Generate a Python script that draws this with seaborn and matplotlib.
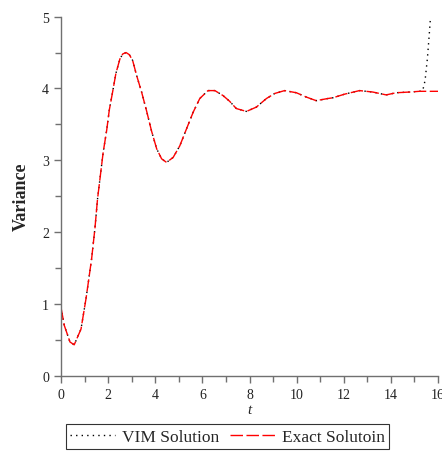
import numpy as np
import pandas as pd
import matplotlib
matplotlib.use("Agg")
import matplotlib.pyplot as plt
import seaborn as sns
from matplotlib.ticker import MultipleLocator

# ---- data ----
t_exact = [0.0, 0.14, 0.38, 0.56, 0.85, 1.06, 1.16, 1.30, 1.44, 1.55, 1.69, 1.79,
           1.94, 2.05, 2.19, 2.33, 2.50, 2.62, 2.76, 2.90, 3.04, 3.21, 3.42, 3.63,
           3.84, 4.06, 4.27, 4.48, 4.76, 5.04, 5.33, 5.61, 5.89, 6.24, 6.53, 6.88,
           7.16, 7.44, 7.87, 8.29, 8.72, 9.07, 9.49, 9.99, 10.41, 10.83, 11.33,
           11.54, 12.03, 12.67, 13.23, 13.80, 14.22, 14.79, 15.21, 16.0]
v_exact = [0.95, 0.70, 0.47, 0.43, 0.65, 1.07, 1.30, 1.63, 2.05, 2.46, 2.84, 3.11,
           3.42, 3.70, 3.95, 4.21, 4.41, 4.48, 4.50, 4.47, 4.39, 4.18, 3.95, 3.69,
           3.41, 3.16, 3.02, 2.97, 3.04, 3.20, 3.44, 3.67, 3.86, 3.97, 3.97, 3.90,
           3.82, 3.72, 3.68, 3.74, 3.86, 3.93, 3.97, 3.94, 3.88, 3.83, 3.86,
           3.87, 3.92, 3.97, 3.95, 3.91, 3.94, 3.95, 3.96, 3.96]

t_vim = t_exact[:-1] + [15.35, 15.45, 15.55, 15.63, 15.68, 15.72]
v_vim = v_exact[:-1] + [3.97, 4.11, 4.42, 4.76, 4.99, 5.25]

labels = ["VIM Solution", "Exact Solutoin"]
x_ticks = [0, 2, 4, 6, 8, 10, 12, 14, 16]
y_ticks = [0, 1, 2, 3, 4, 5]

sns.set_style("ticks")
plt.rcParams["font.family"] = ["Liberation Serif", "DejaVu Serif"]

fig = plt.figure(figsize=(4.42, 4.52), dpi=100)
ax = fig.add_axes([0.138, 0.1666, 0.853, 0.7944])

df_vim = pd.DataFrame({"t": t_vim, "v": v_vim})
df_ex = pd.DataFrame({"t": t_exact, "v": v_exact})

sns.lineplot(data=df_vim, x="t", y="v", ax=ax, color="black", lw=1.0,
             linestyle=(0, (1, 3)), label=labels[0])
sns.lineplot(data=df_ex, x="t", y="v", ax=ax, color="red", lw=1.0,
             linestyle=(0, (9, 2.5)), label=labels[1])

ax.set_xlim(0, 16)
ax.set_ylim(0, 5)
ax.set_xticks(x_ticks)
ax.set_yticks(y_ticks)
ax.xaxis.set_minor_locator(MultipleLocator(1))
ax.yaxis.set_minor_locator(MultipleLocator(0.5))
for s in ["top", "right"]:
    ax.spines[s].set_visible(False)
for s in ["left", "bottom"]:
    ax.spines[s].set_color("#707070")
    ax.spines[s].set_linewidth(1.0)
ax.tick_params(which="both", direction="out", color="#707070", width=1.0,
               labelsize=10, labelcolor="#222222")
ax.tick_params(which="major", length=5)
ax.tick_params(which="minor", length=4)

ax.set_xlabel("t", fontstyle="italic", fontsize=11, labelpad=2)
ax.set_ylabel("Variance", fontweight="bold", fontsize=13, labelpad=9)

ax.get_legend().remove()
leg = fig.legend(loc="center", bbox_to_anchor=(0.515, 0.0317), ncol=2,
                 frameon=True, fancybox=False, fontsize=12.5,
                 handlelength=2.6, handletextpad=0.4, columnspacing=0.6,
                 borderpad=0.25)
leg.get_frame().set_edgecolor("black")
leg.get_frame().set_linewidth(0.8)

fig.savefig("out.png", dpi=100)
